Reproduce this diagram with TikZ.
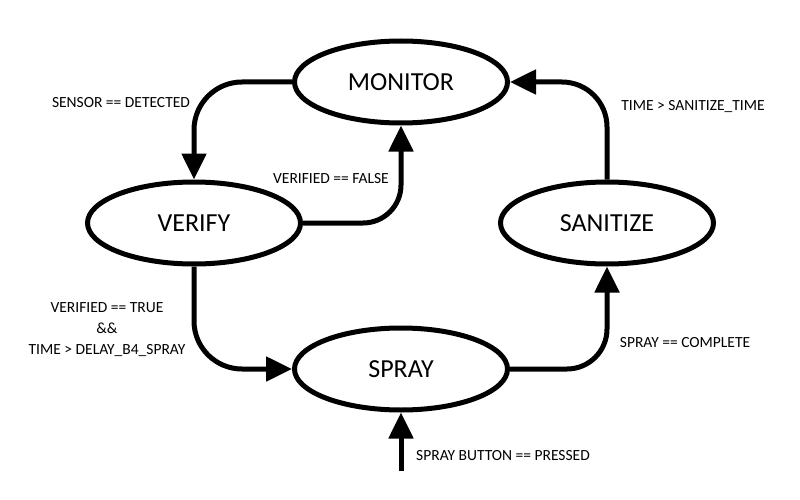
\documentclass[tikz,border=0pt]{standalone}
\usepackage{fontspec}
\setmainfont{Carlito}
\usetikzlibrary{shapes.geometric,arrows.meta}
\tikzset{
  state/.style={ellipse,draw,line width=5pt,minimum width=213pt,minimum height=82pt,inner sep=0pt,font=\fontsize{26}{30}\selectfont},
  trans/.style={line width=5pt,-{Triangle[length=26pt,width=24pt]}},
  lbl/.style={font=\fontsize{15.5}{21}\selectfont,inner sep=0pt,align=center}
}
\begin{document}
\begin{tikzpicture}[x=1pt,y=-1pt]
\useasboundingbox (0,0) rectangle (800,500);
\node[state] (M) at (401,82) {MONITOR};
\node[state] (V) at (194,223) {VERIFY};
\node[state] (S) at (401,369) {SPRAY};
\node[state] (Z) at (607,223) {SANITIZE};
\coordinate (in) at (401,471);

\draw[trans,rounded corners=48pt] (M.west) -| (V.north);
\draw[trans,rounded corners=38pt] (V.east) -| (M.south);
\draw[trans,rounded corners=48pt] (V.south) |- (S.west);
\draw[trans,rounded corners=40pt] (S.east) -| (Z.south);
\draw[trans,rounded corners=45pt] (Z.north) |- (M.east);
\draw[trans] (in) -- (S.south);

\node[lbl] (l1) at (121,103) {SENSOR == DETECTED};
\node[lbl] (l2) at (331,179) {VERIFIED == FALSE};
\node[lbl] (l3) at (107,330) {VERIFIED == TRUE\\\&\&\\TIME > DELAY\_B4\_SPRAY};
\node[lbl] (l4) at (685,343) {SPRAY == COMPLETE};
\node[lbl] (l5) at (693,107) {TIME > SANITIZE\_TIME};
\node[lbl] (l6) at (503,456) {SPRAY BUTTON == PRESSED};
\end{tikzpicture}
\end{document}
